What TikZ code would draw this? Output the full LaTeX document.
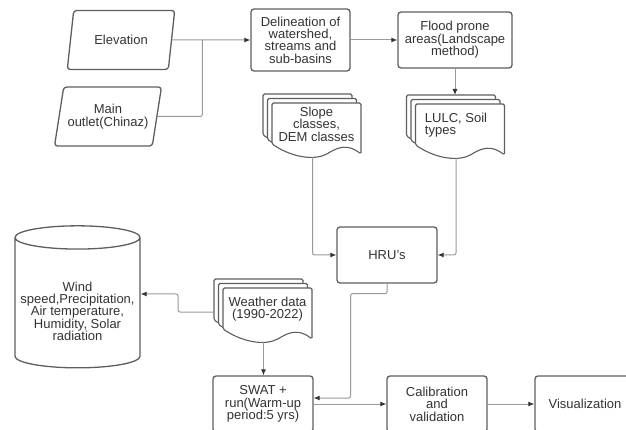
\documentclass[tikz,border=0pt]{standalone}
\usepackage{fontspec}
\setmainfont{Liberation Sans}
\usetikzlibrary{arrows.meta,shapes.geometric,calc}
\definecolor{edge}{HTML}{5E5E5E}
\definecolor{wire}{HTML}{9A9A9A}
\definecolor{ink}{HTML}{333333}

% stacked sheets with a wavy bottom: [text options]{name}{centre}{text}
\newcommand{\multidoc}[4][]{%
  \foreach \k in {2,1,0}
    \draw[docpage,shift={(#3)},shift={(-4.5*\k,-4.5*\k)}] (-44.5,-21) -- (44.5,-21) -- (44.5,30)
      .. controls (32,20) and (22,23) .. (12,29) .. controls (0,36) and (-22,35) .. (-44.5,20) -- cycle;
  \path[shift={(#3)}] (-4,33) coordinate (#2-b) (-53.5,3) coordinate (#2-w) (-9,-30) coordinate (#2-t);
  \node[doctext,#1] (#2) at (#3) {#4};
}

\begin{document}
\begin{tikzpicture}[x=1pt,y=-1pt,font=\fontsize{13}{12.4}\selectfont,text=ink,
  box/.style={draw=edge,line width=1.3pt,rounded corners=3pt,fill=white,minimum width=100pt,minimum height=56pt,align=center,inner sep=2pt},
  slant/.style={trapezium,trapezium left angle=72,trapezium right angle=108,trapezium stretches=true,draw=edge,line width=1.3pt,rounded corners=3pt,minimum width=108pt,minimum height=59pt,align=center,inner sep=1pt},
  docpage/.style={draw=edge,line width=1.1pt,fill=white,rounded corners=1.5pt},
  doctext/.style={align=center,inner sep=0pt},
  wire/.style={draw=wire,line width=1pt,rounded corners=2pt},
  arr/.style={wire,-{Latex[length=6pt,width=5pt,color=ink]}}]
\useasboundingbox (0,0) rectangle (626,430);
\clip (0,0) rectangle (626,430);

\node[slant] (elev) at (121,40) {Elevation};
\node[slant] (outlet) at (108,116.5) {Main\\outlet(Chinaz)};
\node[box,minimum width=99pt,minimum height=62pt] (delin) at (300.5,40) {Delineation of\\watershed,\\streams and\\sub-basins};
\node[box,minimum width=114pt] (flood) at (455,40) {Flood prone\\areas(Landscape\\method)};
\multidoc{slope}{316.5,124}{Slope\\classes,\\DEM classes}
\multidoc[align=left,xshift=-4pt]{lulc}{460,125}{LULC, Soil\\types}
\node[box] (hru) at (387,255) {HRU's};
\node[cylinder,shape border rotate=90,aspect=0.2,draw=edge,line width=1.3pt,fill=white,minimum width=125pt,minimum height=142pt,align=center,inner sep=1pt] (cyl) at (77.5,304) {\rule{0pt}{24pt}Wind\\speed,Precipitation,\\Air temperature,\\Humidity, Solar\\radiation};
\multidoc{weather}{267.5,309}{Weather data\\(1990-2022)}
\node[box] (swat) at (263,404) {SWAT +\\run(Warm-up\\period:5 yrs)};
\node[box] (calib) at (437,404) {Calibration\\and\\validation};
\node[box] (vis) at (585,404) {Visualization};

\coordinate (join) at ($(delin.west)+(-48,0)$);
\draw[arr] (elev.east) -- (delin.west);
\draw[wire] (outlet.east) -| (join);
\draw[arr] (delin.east) -- (flood.west);
\draw[arr] (flood.south) -- (flood.south |- lulc-t);
\draw[arr] (slope-b) |- (hru.west);
\draw[arr] (lulc-b) |- (hru.east);
\coordinate (drop) at ($(swat.east)+(37,-6)$);
\draw[arr] (hru.south) -- ++(0,10) -| (drop) -- (drop -| swat.east);
\draw[arr] (weather-b) -- (weather-b |- swat.north);
\draw[arr] (weather-w) -- ++(-36,0) |- ([yshift=10pt]cyl.east);
\draw[arr] (swat.east) -- (calib.west);
\draw[arr] (calib.east) -- (vis.west);
\end{tikzpicture}
\end{document}
